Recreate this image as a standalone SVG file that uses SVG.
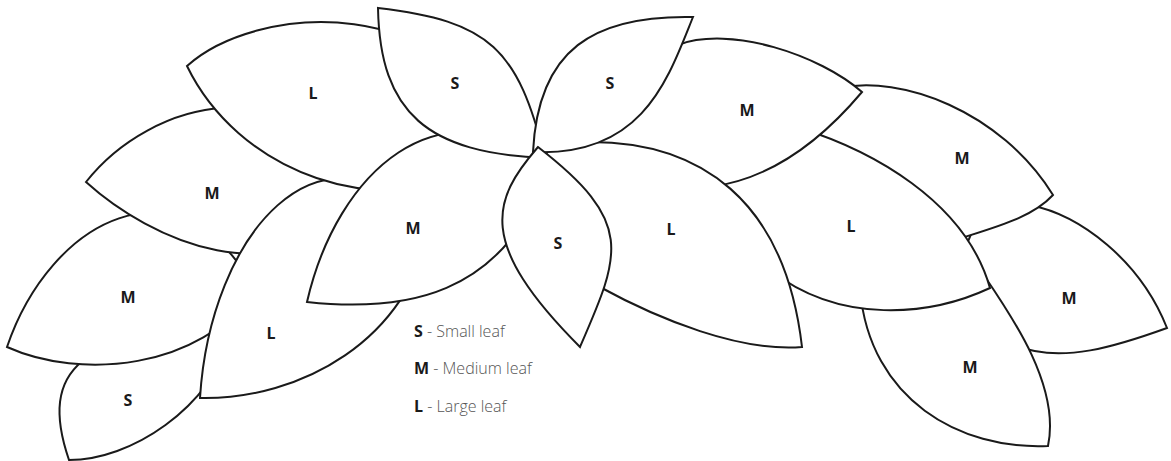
<svg xmlns="http://www.w3.org/2000/svg" width="1171" height="461" viewBox="0 0 1171 461">
<style>
.leaf path{fill:#fff;stroke:#1a1a1a;stroke-width:2;stroke-linejoin:miter;stroke-miterlimit:10}
.lbl{font-family:"Open Sans","Noto Sans",sans-serif;font-weight:700;font-size:16px;fill:#1a1a1a;text-anchor:middle}
.lg{font-family:"Open Sans","Noto Sans",sans-serif;font-size:16px;fill:#555;font-weight:300}
.lg tspan.b{font-weight:700;fill:#1a1a1a}
</style>
<rect width="1171" height="461" fill="#fff"/>
<g class="leaf">
<g id="leaf-s4"><path d="M69,460 C38,370 80,330 235,330 C210,410 130,460 69,460 Z"/></g>
<g id="leaf-m7"><path d="M7,347 C50,220 180,150 255,290 C200,370 80,380 7,347 Z"/></g>
<g id="leaf-m6"><path d="M86,182 C150,100 300,60 360,200 C280,300 150,240 86,182 Z"/></g>
<g id="leaf-l4"><path d="M200,398 C210,235 320,105 430,225 C410,340 300,400 200,398 Z"/></g>
<g id="leaf-l1"><path d="M187,66 C255,5 450,-15 530,158 C370,235 235,165 187,66 Z"/></g>
<g id="leaf-m5"><path d="M307,302 C337,171 440,80 550,165 C505,300 400,312 307,302 Z"/></g>
<g id="leaf-m3"><path d="M1030,205 C1080,215 1140,260 1167,328 C1120,345 1060,365 1015,345 L985,300 L960,260 L975,225 Z"/></g>
<g id="leaf-m2"><path d="M840,88 C900,75 1000,110 1053,195 C1030,220 990,228 940,245 L860,190 L815,150 L830,110 Z"/></g>
<g id="leaf-m4"><path d="M975,262 C1000,300 1062,380 1048,446 C960,450 870,400 860,290 L950,260 Z"/></g>
<g id="leaf-l2"><path d="M800,128 C870,150 965,200 990,288 C930,316 840,325 770,270 L720,220 L705,190 L760,150 Z"/></g>
<g id="leaf-m1"><path d="M678,45 C730,25 820,55 862,92 C830,130 780,178 710,187 L600,160 L595,130 L640,80 Z"/></g>
<g id="leaf-l3"><path d="M802,347 C785,200 700,140 585,142 L560,120 L540,170 L598,286 C660,320 740,352 802,347 Z"/></g>
<g id="leaf-s1"><path d="M378,8 C490,21 518,49 545,158 C428,153 380,114 378,8 Z"/></g>
<g id="leaf-s2"><path d="M533,152 C538,49 594,15 693,17 C668,79 643,157 533,152 Z"/></g>
<g id="leaf-s3"><path d="M538,147 C635,222 621,253 580,347 C476,243 492,200 538,147 Z"/></g>
</g>
<g id="labels">
<text class="lbl" x="313" y="99">L</text>
<text class="lbl" x="455" y="89">S</text>
<text class="lbl" x="610" y="89">S</text>
<text class="lbl" x="747" y="116">M</text>
<text class="lbl" x="962" y="164">M</text>
<text class="lbl" x="851" y="232">L</text>
<text class="lbl" x="1069" y="304">M</text>
<text class="lbl" x="970" y="373">M</text>
<text class="lbl" x="671" y="235">L</text>
<text class="lbl" x="558" y="249">S</text>
<text class="lbl" x="413" y="234">M</text>
<text class="lbl" x="212" y="199">M</text>
<text class="lbl" x="128" y="303">M</text>
<text class="lbl" x="271" y="339">L</text>
<text class="lbl" x="128" y="406">S</text>
</g>
<g id="legend">
<text class="lg" x="414" y="337"><tspan class="b">S</tspan> - Small leaf</text>
<text class="lg" x="414" y="374"><tspan class="b">M</tspan> - Medium leaf</text>
<text class="lg" x="414" y="412"><tspan class="b">L</tspan> - Large leaf</text>
</g>
</svg>
